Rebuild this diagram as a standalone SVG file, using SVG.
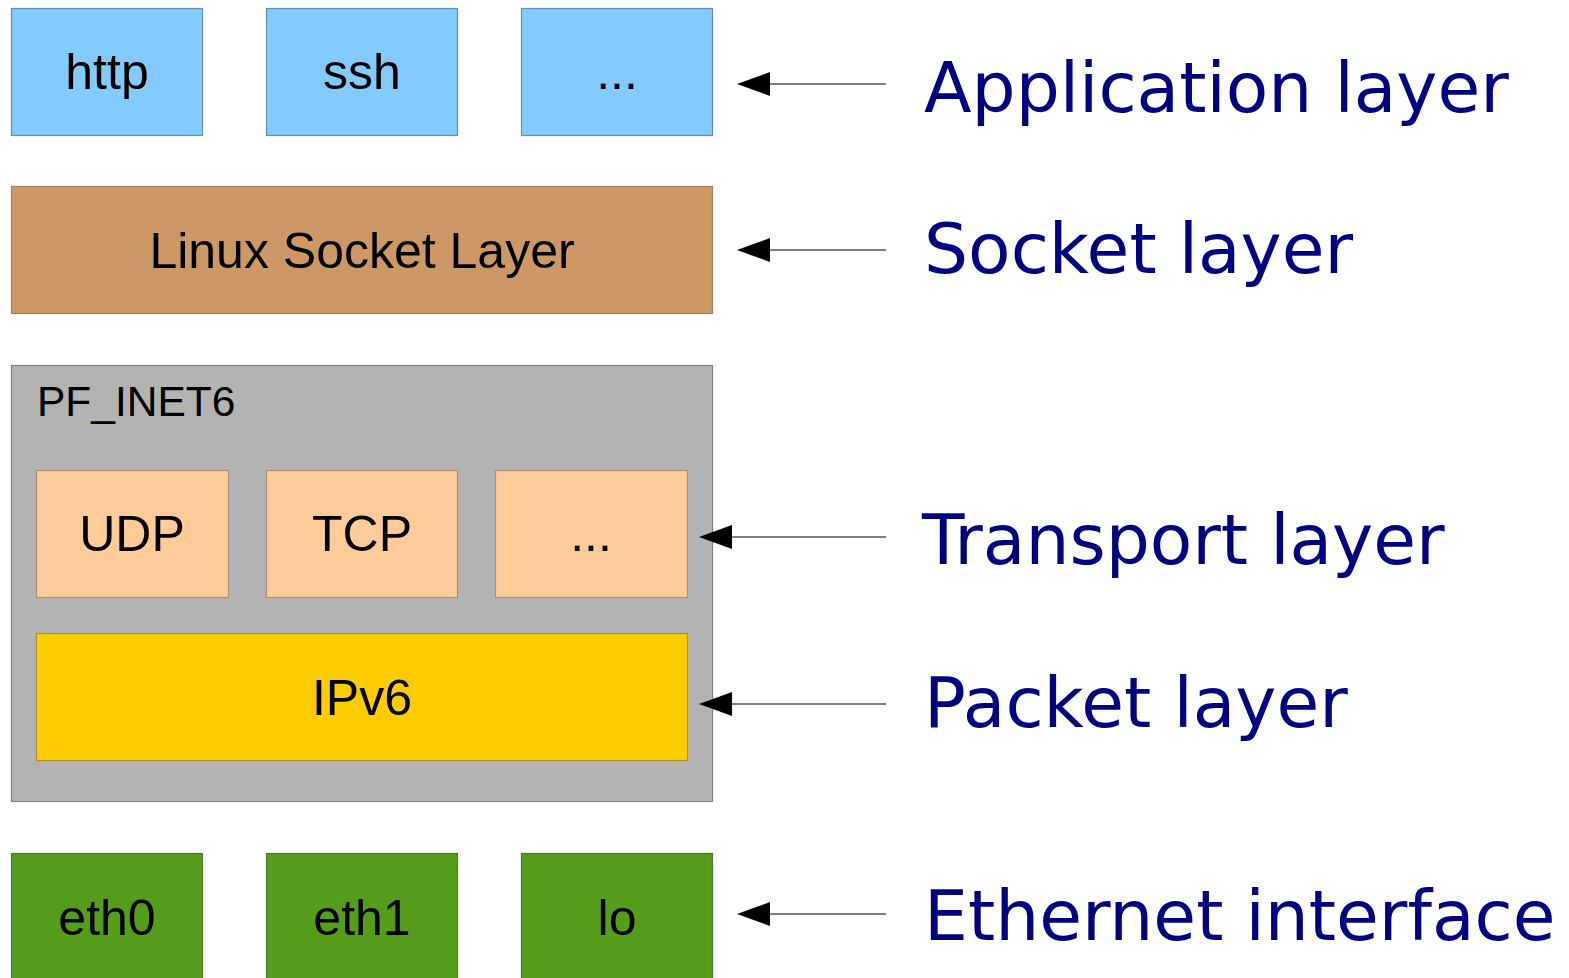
<svg xmlns="http://www.w3.org/2000/svg" width="1569" height="978" viewBox="0 0 1569 978">
<style>
.box{stroke-width:1.2}
.app{fill:#83caff;stroke:#5f8fb8}
.sock{fill:#cc9966;stroke:#a88060}
.pf{fill:#b3b3b3;stroke:#808080}
.tr{fill:#ffcc99;stroke:#a89070}
.ip{fill:#ffcc00;stroke:#b09030}
.eth{fill:#579d1c;stroke:#4a7a30}
.bt{font-family:"Liberation Sans",Arial,sans-serif;font-size:50px;fill:#000;text-anchor:middle}
.lt{font-family:"DejaVu Sans",sans-serif;font-size:69.5px;fill:#000080}
.conn{stroke:#555;stroke-width:1.5;fill:none}
</style>
<rect width="1569" height="978" fill="#fff"/>
<g id="http"><rect class="box app" x="11.5" y="8.5" width="191" height="127"/><text class="bt" x="107" y="89">http</text></g>
<g id="ssh"><rect class="box app" x="266.5" y="8.5" width="191" height="127"/><text class="bt" x="362" y="89">ssh</text></g>
<g id="app-more"><rect class="box app" x="521.5" y="8.5" width="191" height="127"/><text class="bt" x="617" y="89">...</text></g>
<g id="socket"><rect class="box sock" x="11.5" y="186.5" width="701" height="127"/><text class="bt" x="362" y="268">Linux Socket Layer</text></g>
<g id="pf_inet6"><rect class="box pf" x="11.5" y="365.5" width="701" height="436"/><text font-family="Liberation Sans,Arial,sans-serif" font-size="42.5" x="37" y="416" fill="#000">PF_INET6</text></g>
<g id="udp"><rect class="box tr" x="36.5" y="470.5" width="192" height="127"/><text class="bt" x="132" y="551">UDP</text></g>
<g id="tcp"><rect class="box tr" x="266.5" y="470.5" width="191" height="127"/><text class="bt" x="362" y="551">TCP</text></g>
<g id="tr-more"><rect class="box tr" x="495.5" y="470.5" width="192" height="127"/><text class="bt" x="591" y="551">...</text></g>
<g id="ipv6"><rect class="box ip" x="36.5" y="633.5" width="651" height="127"/><text class="bt" x="362" y="715">IPv6</text></g>
<g id="eth0"><rect class="box eth" x="11.5" y="853.5" width="191" height="130"/><text class="bt" x="107" y="935">eth0</text></g>
<g id="eth1"><rect class="box eth" x="266.5" y="853.5" width="191" height="130"/><text class="bt" x="362" y="935">eth1</text></g>
<g id="lo"><rect class="box eth" x="521.5" y="853.5" width="191" height="130"/><text class="bt" x="617" y="935">lo</text></g>
<g id="connectors">
<line class="conn" x1="886" y1="84" x2="770" y2="84"/><path d="M737,84 L770,72 L770,96 Z"/>
<line class="conn" x1="886" y1="250" x2="770" y2="250"/><path d="M737,250 L770,238 L770,262 Z"/>
<line class="conn" x1="886" y1="537" x2="732" y2="537"/><path d="M699,537 L732,525 L732,549 Z"/>
<line class="conn" x1="886" y1="704" x2="732" y2="704"/><path d="M699,704 L732,692 L732,716 Z"/>
<line class="conn" x1="886" y1="914" x2="770" y2="914"/><path d="M737,914 L770,902 L770,926 Z"/>
</g>
<g id="labels">
<text class="lt" x="924" y="112">Application layer</text>
<text class="lt" x="924" y="273">Socket layer</text>
<text class="lt" x="922" y="564">Transport layer</text>
<text class="lt" x="924" y="727">Packet layer</text>
<text class="lt" x="924" y="940">Ethernet interface</text>
</g>
</svg>
